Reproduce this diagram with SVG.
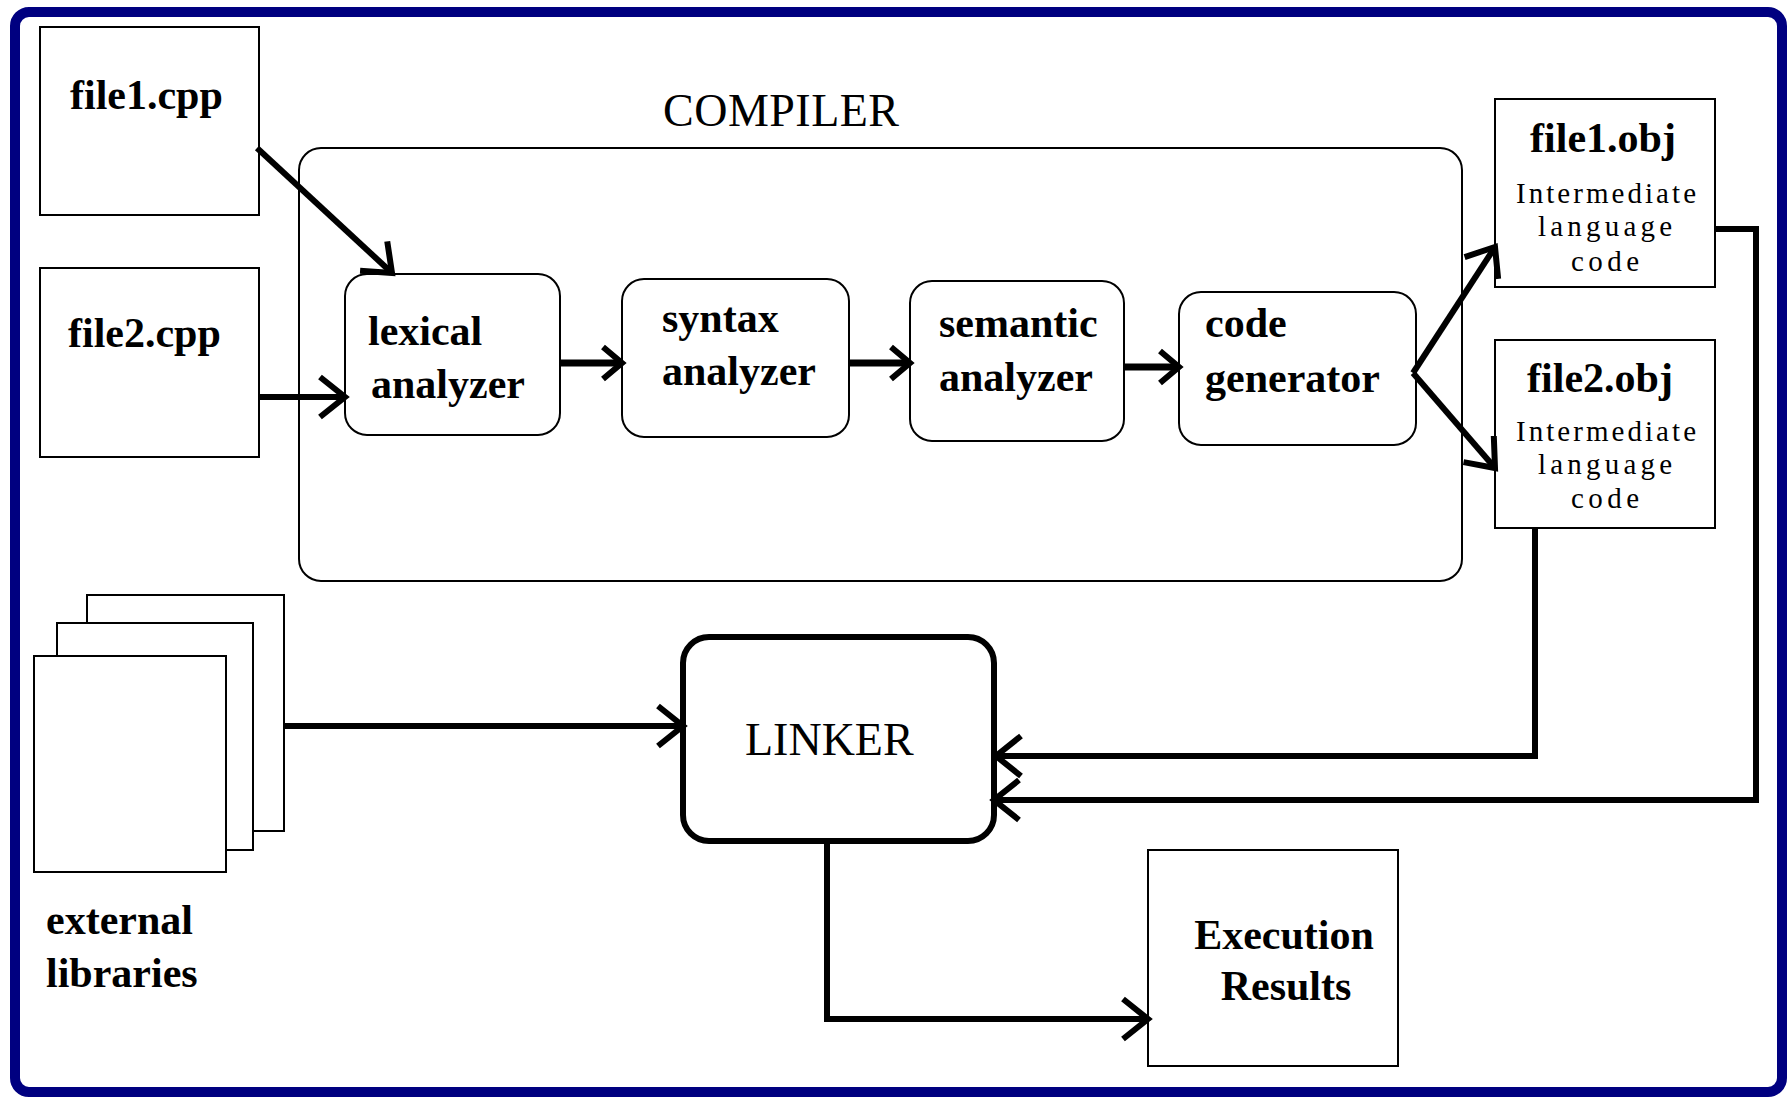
<svg xmlns="http://www.w3.org/2000/svg" width="1790" height="1098" viewBox="0 0 1790 1098">
<style>
  .box { fill: #fff; stroke: #000; stroke-width: 2; }
  .linker { fill: #fff; stroke: #000; stroke-width: 6; }
  .b { font-family: "Liberation Serif", "Times New Roman", serif; font-weight: bold; font-size: 42px; fill: #000; }
  .r { font-family: "Liberation Serif", "Times New Roman", serif; font-size: 46px; fill: #000; }
  .s { font-family: "Liberation Serif", "Times New Roman", serif; font-size: 29px; fill: #000; text-anchor: middle; }
  .conn { fill: none; stroke: #000; stroke-width: 6; stroke-linejoin: miter; }
  .thick { stroke-width: 7; }
</style>
<defs>
  <marker id="arr" markerUnits="userSpaceOnUse" markerWidth="40" markerHeight="50" viewBox="-30 -25 34 50" refX="0" refY="0" orient="auto">
    <path d="M-25,-20 L0,0 L-25,20" fill="none" stroke="#000" stroke-width="6"/>
  </marker>
  <marker id="arrs" markerUnits="userSpaceOnUse" markerWidth="30" markerHeight="40" viewBox="-24 -20 28 40" refX="0" refY="0" orient="auto">
    <path d="M-19,-16 L0,0 L-19,16" fill="none" stroke="#000" stroke-width="6"/>
  </marker>
</defs>
<rect x="0" y="0" width="1790" height="1098" fill="#fff"/>
<rect id="frame" x="15" y="12" width="1767" height="1080" rx="14" fill="#fff" stroke="#000080" stroke-width="10"/>

<g id="compiler">
  <rect class="box" x="299" y="148" width="1163" height="433" rx="22"/>
  <text class="r" x="663" y="126" textLength="236">COMPILER</text>
</g>

<g id="file1cpp">
  <rect class="box" x="40" y="27" width="219" height="188"/>
  <text class="b" x="70" y="109">file1.cpp</text>
</g>
<g id="file2cpp">
  <rect class="box" x="40" y="268" width="219" height="189"/>
  <text class="b" x="68" y="347">file2.cpp</text>
</g>

<g id="lexical">
  <rect class="box" x="345" y="274" width="215" height="161" rx="22"/>
  <text class="b" x="368" y="345">lexical</text>
  <text class="b" x="371" y="398">analyzer</text>
</g>
<g id="syntax">
  <rect class="box" x="622" y="279" width="227" height="158" rx="22"/>
  <text class="b" x="662" y="332">syntax</text>
  <text class="b" x="662" y="385">analyzer</text>
</g>
<g id="semantic">
  <rect class="box" x="910" y="281" width="214" height="160" rx="22"/>
  <text class="b" x="939" y="337">semantic</text>
  <text class="b" x="939" y="391">analyzer</text>
</g>
<g id="codegen">
  <rect class="box" x="1179" y="292" width="237" height="153" rx="22"/>
  <text class="b" x="1205" y="337">code</text>
  <text class="b" x="1205" y="392">generator</text>
</g>

<g id="file1obj">
  <rect class="box" x="1495" y="99" width="220" height="188"/>
  <text class="b" x="1603" y="152" text-anchor="middle">file1.obj</text>
  <text class="s" x="1606" y="203" textLength="180">Intermediate</text>
  <text class="s" x="1605" y="236" textLength="134">language</text>
  <text class="s" x="1605" y="271" textLength="68">code</text>
</g>
<g id="file2obj">
  <rect class="box" x="1495" y="340" width="220" height="188"/>
  <text class="b" x="1600" y="392" text-anchor="middle">file2.obj</text>
  <text class="s" x="1606" y="441" textLength="180">Intermediate</text>
  <text class="s" x="1605" y="474" textLength="134">language</text>
  <text class="s" x="1605" y="508" textLength="68">code</text>
</g>

<g id="libraries">
  <rect class="box" x="87" y="595" width="197" height="236"/>
  <rect class="box" x="57" y="623" width="196" height="227"/>
  <rect class="box" x="34" y="656" width="192" height="216"/>
  <text class="b" x="46" y="934">external</text>
  <text class="b" x="46" y="987">libraries</text>
</g>

<g id="linker">
  <rect class="linker" x="683" y="637" width="311" height="204" rx="26"/>
  <text class="r" x="745" y="755">LINKER</text>
</g>

<g id="results">
  <rect class="box" x="1148" y="850" width="250" height="216"/>
  <text class="b" x="1284" y="949" text-anchor="middle">Execution</text>
  <text class="b" x="1286" y="1000" text-anchor="middle">Results</text>
</g>

<g id="connectors">
  <path class="conn" d="M257,148 L392,273" marker-end="url(#arr)"/>
  <path class="conn" d="M259,397 L345,397" marker-end="url(#arr)"/>
  <path class="conn thick" d="M560,363 L622,363" marker-end="url(#arrs)"/>
  <path class="conn thick" d="M849,363 L910,363" marker-end="url(#arrs)"/>
  <path class="conn thick" d="M1124,367 L1179,367" marker-end="url(#arrs)"/>
  <path class="conn" d="M1413,373 L1495,247" marker-end="url(#arr)"/>
  <path class="conn" d="M1413,373 L1495,468" marker-end="url(#arr)"/>
  <path class="conn" d="M284,726 L683,726" marker-end="url(#arr)"/>
  <path class="conn" d="M1535,528 L1535,756 L996,756" marker-end="url(#arr)"/>
  <path class="conn" d="M1715,229 L1756,229 L1756,800 L994,800" marker-end="url(#arr)"/>
  <path class="conn" d="M827,841 L827,1019 L1148,1019" marker-end="url(#arr)"/>
</g>
</svg>
